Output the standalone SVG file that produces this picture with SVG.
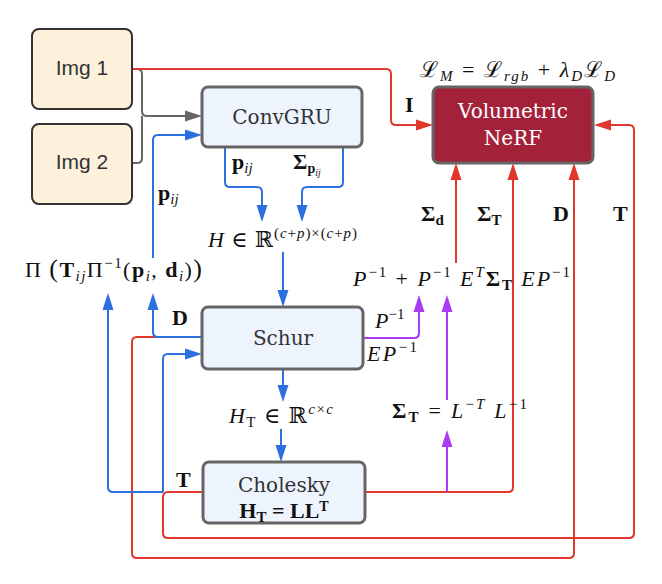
<svg xmlns="http://www.w3.org/2000/svg" width="662" height="584" viewBox="0 0 662 584">
<defs>
<style>
.in{fill:#FDF1DC;stroke:#333;stroke-width:2}
.proc{fill:#EDF4FE;stroke:#666;stroke-width:3}
.nerf{fill:#A3223A;stroke:#666;stroke-width:3}
.sans{font-family:"Liberation Sans",Arial,sans-serif;font-size:21px;fill:#333;text-anchor:middle}
.lbl{font-family:"DejaVu Serif",serif;font-size:20px;fill:#333;text-anchor:middle}
.m{font-family:"Liberation Serif","DejaVu Serif",serif;font-size:22px;fill:#111}
.b{font-weight:bold}
.i{font-style:italic}
.cr{fill:none;stroke:#E0362C;stroke-width:2}
.cb{fill:none;stroke:#2C70E0;stroke-width:2}
.cp{fill:none;stroke:#A93BF2;stroke-width:2}
.cg{fill:none;stroke:#666;stroke-width:2}
</style>
<marker id="ar" markerUnits="userSpaceOnUse" markerWidth="17" markerHeight="12" refX="1" refY="6" orient="auto"><path d="M0,0.5 L17,6 L0,11.5 z" fill="#E0362C"/></marker>
<marker id="ab" markerUnits="userSpaceOnUse" markerWidth="17" markerHeight="12" refX="1" refY="6" orient="auto"><path d="M0,0.5 L17,6 L0,11.5 z" fill="#2C70E0"/></marker>
<marker id="ap" markerUnits="userSpaceOnUse" markerWidth="17" markerHeight="12" refX="1" refY="6" orient="auto"><path d="M0,0.5 L17,6 L0,11.5 z" fill="#A93BF2"/></marker>
<marker id="ag" markerUnits="userSpaceOnUse" markerWidth="17" markerHeight="12" refX="1" refY="6" orient="auto"><path d="M0,0.5 L17,6 L0,11.5 z" fill="#666"/></marker>
</defs>
<rect width="662" height="584" fill="#fff"/>

<g id="connectors">
<path class="cg" d="M132,69 H137 Q142,69 142,74 V111 Q142,116 147,116 H186" marker-end="url(#ag)"/>
<path class="cg" d="M132,163 H137 Q142,163 142,158 V116"/>
<path class="cr" d="M132,69 H386 Q391,69 391,74 V120 Q391,125 396,125 H417" marker-end="url(#ar)"/>
<path class="cb" d="M153,258 V140 Q153,135 158,135 H186" marker-end="url(#ab)"/>
<path class="cb" d="M225,147 V182 Q225,187 230,187 H257 Q262,187 262,192 V206" marker-end="url(#ab)"/>
<path class="cb" d="M343,147 V182 Q343,187 338,187 H307 Q302,187 302,192 V206" marker-end="url(#ab)"/>
<path class="cb" d="M283,252 V291" marker-end="url(#ab)"/>
<path class="cb" d="M283,369 V386" marker-end="url(#ab)"/>
<path class="cb" d="M281,429 V446" marker-end="url(#ab)"/>
<path class="cr" d="M202,337 H137 Q132,337 132,342 V553 Q132,558 137,558 H569 Q574,558 574,553 V179" marker-end="url(#ar)"/>
<path class="cb" d="M202,337 H158 Q153,337 153,332 V309" marker-end="url(#ab)"/>
<path class="cr" d="M203,492 H168 Q163,492 163,497 V533 Q163,538 168,538 H629 Q634,538 634,533 V130 Q634,125 629,125 H610" marker-end="url(#ar)"/>
<path class="cb" d="M163,492 H113 Q108,492 108,487 V309" marker-end="url(#ab)"/>
<path class="cb" d="M163,492 V359 Q163,354 168,354 H186" marker-end="url(#ab)"/>
<path class="cr" d="M365,492 H508 Q513,492 513,487 V179" marker-end="url(#ar)"/>
<path class="cp" d="M447,492 V446" marker-end="url(#ap)"/>
<path class="cp" d="M447,400 V311" marker-end="url(#ap)"/>
<path class="cp" d="M363,338 H414 Q419,338 419,333 V311" marker-end="url(#ap)"/>
<path class="cr" d="M456,263 V179" marker-end="url(#ar)"/>
</g>

<g id="img1"><rect class="in" x="32" y="29" width="100" height="80" rx="7"/><text class="sans" x="82" y="75">Img 1</text></g>
<g id="img2"><rect class="in" x="32" y="124" width="100" height="80" rx="7"/><text class="sans" x="82" y="169">Img 2</text></g>
<g id="convgru"><rect class="proc" x="202" y="87" width="160" height="60" rx="6"/><text class="lbl" x="282" y="124">ConvGRU</text></g>
<g id="nerf"><rect class="nerf" x="433" y="87" width="160" height="76" rx="6"/><text class="lbl" x="513" y="118" style="fill:#fff">Volumetric</text><text class="lbl" x="513" y="145" style="fill:#fff">NeRF</text></g>
<g id="schur"><rect class="proc" x="202" y="307" width="161" height="62" rx="6"/><text class="lbl" x="283" y="345">Schur</text></g>
<g id="cholesky"><rect class="proc" x="203" y="462" width="162" height="61" rx="6"/><text class="lbl" x="284" y="492">Cholesky</text>
<text class="m b" x="284" y="518" text-anchor="middle">H<tspan font-size="15" dy="4">T</tspan><tspan dy="-4"> = LL</tspan><tspan font-size="14" dy="-7">T</tspan></text></g>

<g id="labels">
<text class="m" x="420" y="77" textLength="195" lengthAdjust="spacing">ℒ<tspan class="i" font-size="15" dy="4">M</tspan><tspan dy="-4"> = ℒ</tspan><tspan class="i" font-size="15" dy="4">rgb</tspan><tspan dy="-4"> + </tspan><tspan class="i">λ</tspan><tspan class="i" font-size="15" dy="4">D</tspan><tspan dy="-4">ℒ</tspan><tspan class="i" font-size="15" dy="4">D</tspan></text>
<text class="m b" x="405" y="112">I</text>
<text class="m b" x="421" y="221">Σ<tspan font-size="15" dy="4">d</tspan></text>
<text class="m b" x="477" y="221">Σ<tspan font-size="15" dy="4">T</tspan></text>
<text class="m b" x="553" y="221">D</text>
<text class="m b" x="613" y="221">T</text>
<text class="m" x="158" y="200"><tspan class="b">p</tspan><tspan class="i" font-size="15" dy="4">ij</tspan></text>
<text class="m" x="232" y="169"><tspan class="b">p</tspan><tspan class="i" font-size="15" dy="4">ij</tspan></text>
<text class="m" x="293" y="169"><tspan class="b">Σ</tspan><tspan class="b" font-size="14" dy="4">p</tspan><tspan class="i" font-size="10" dy="3">ij</tspan></text>
<text class="m" x="208" y="247" textLength="149" lengthAdjust="spacing"><tspan class="i">H</tspan> ∈ ℝ<tspan font-size="15" dy="-9">(<tspan class="i">c</tspan>+<tspan class="i">p</tspan>)×(<tspan class="i">c</tspan>+<tspan class="i">p</tspan>)</tspan></text>
<text class="m" x="25" y="277" textLength="177" lengthAdjust="spacing">Π <tspan font-size="26">(</tspan><tspan class="b">T</tspan><tspan class="i" font-size="15" dy="4">ij</tspan><tspan dy="-4">Π</tspan><tspan font-size="15" dy="-9">−1</tspan><tspan dy="9">(</tspan><tspan class="b">p</tspan><tspan class="i" font-size="15" dy="4">i</tspan><tspan dy="-4">, </tspan><tspan class="b">d</tspan><tspan class="i" font-size="15" dy="4">i</tspan><tspan dy="-4">)</tspan><tspan font-size="26">)</tspan></text>
<text class="m b" x="172" y="325">D</text>
<text class="m b" x="176" y="487">T</text>
<text class="m" x="353" y="286" textLength="217" lengthAdjust="spacing"><tspan class="i">P</tspan><tspan font-size="15" dy="-9">−1</tspan><tspan dy="9"> + </tspan><tspan class="i">P</tspan><tspan font-size="15" dy="-9">−1</tspan><tspan dy="9" class="i"> E</tspan><tspan class="i" font-size="15" dy="-9">T</tspan><tspan dy="9" class="b">Σ</tspan><tspan class="b" font-size="15" dy="4">T</tspan><tspan dy="-4" class="i"> EP</tspan><tspan font-size="15" dy="-9">−1</tspan></text>
<text class="m" x="375" y="328"><tspan class="i">P</tspan><tspan font-size="15" dy="-9">−1</tspan></text>
<text class="m" x="367" y="361" textLength="50" lengthAdjust="spacing"><tspan class="i">EP</tspan><tspan font-size="15" dy="-9">−1</tspan></text>
<text class="m" x="229" y="423" textLength="104" lengthAdjust="spacing"><tspan class="i">H</tspan><tspan font-size="15" dy="4">T</tspan><tspan dy="-4"> ∈ ℝ</tspan><tspan font-size="15" dy="-9"><tspan class="i">c</tspan>×<tspan class="i">c</tspan></tspan></text>
<text class="m" x="392" y="418" textLength="135" lengthAdjust="spacing"><tspan class="b">Σ</tspan><tspan class="b" font-size="15" dy="4">T</tspan><tspan dy="-4"> = </tspan><tspan class="i">L</tspan><tspan font-size="15" dy="-9">−<tspan class="i">T</tspan></tspan><tspan dy="9" class="i"> L</tspan><tspan font-size="15" dy="-9">−1</tspan></text>
</g>
</svg>
